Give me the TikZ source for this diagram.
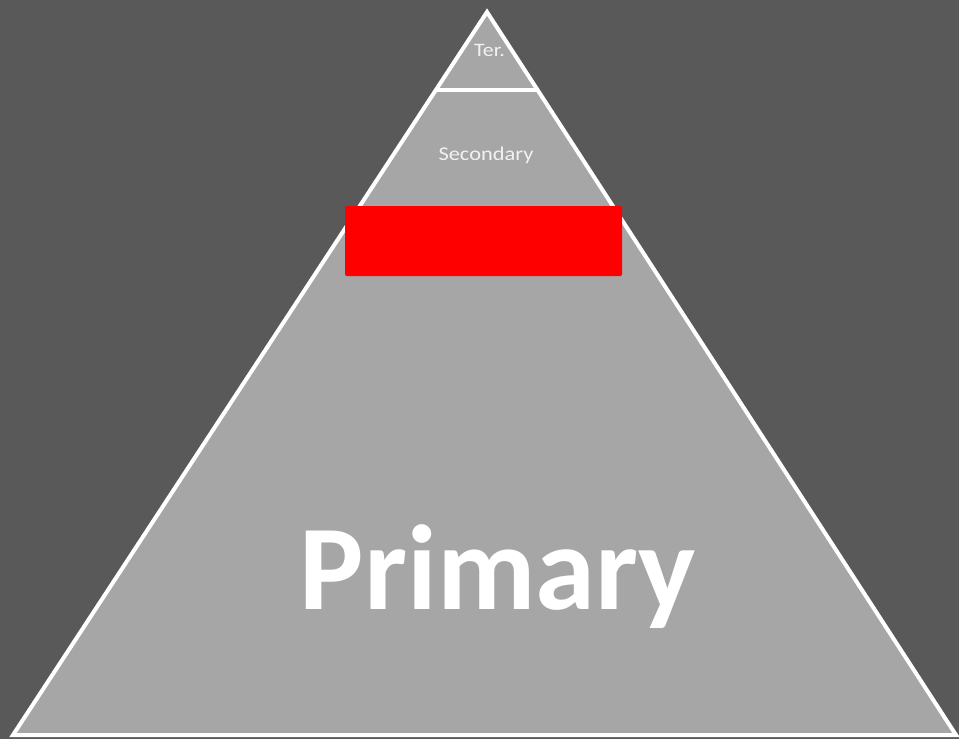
\documentclass[tikz,border=0pt]{standalone}
\usepackage{fontspec}
\setmainfont{Carlito}
\newfontfamily\widefont[FakeStretch=1.15]{Carlito}
\usetikzlibrary{calc}
\definecolor{bgdark}{HTML}{595959}
\definecolor{pyrfill}{HTML}{A6A6A6}
\definecolor{txtlight}{HTML}{F2F2F2}
\begin{document}
\begin{tikzpicture}[x=1pt,y=-1pt,
  edge/.style={draw=white,line width=4pt,line join=miter},
  label/.style={text=txtlight,inner sep=0pt,anchor=base}]
\useasboundingbox (0,0) rectangle (959,739);
\fill[bgdark] (0,0) rectangle (959,739);
\coordinate (apex) at (487,12);
\coordinate (bl) at (13,735);
\coordinate (br) at (956,735);
\path[edge,fill=pyrfill] (apex) -- (bl) -- (br) -- cycle;
\coordinate (tl) at ($(apex)!0.108!(bl)$);
\coordinate (tr) at ($(apex)!0.108!(br)$);
\draw[edge] (tl) -- (tr);
\node[label,font=\widefont\fontsize{19}{22}\selectfont] (ter) at (489.5,56.5) {Ter.};
\node[label,font=\widefont\fontsize{19.5}{22}\selectfont] (sec) at (486,160.5) {Secondary};
\node[fill=red,draw=none,rounded corners=1.5pt,minimum width=277pt,minimum height=70pt,inner sep=0pt] (box) at (483.5,241) {};
\node[label,text=white,font=\bfseries\fontsize{121}{140}\selectfont] (prim) at (498,609) {Primary};
\end{tikzpicture}
\end{document}
